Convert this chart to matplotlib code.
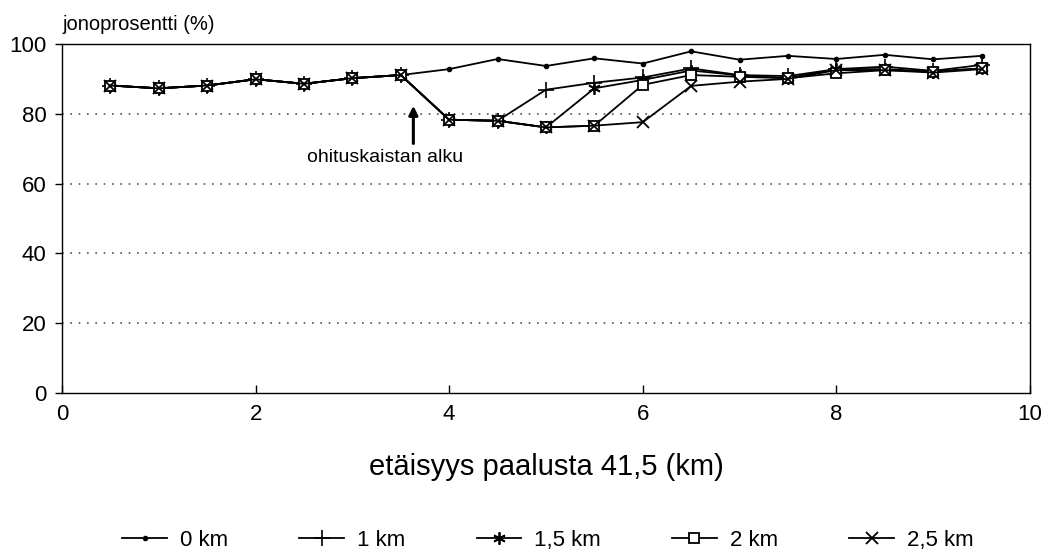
import matplotlib
matplotlib.use("Agg")
import matplotlib.pyplot as plt

# Distance from chainage 41,5 km (km)
distance = [0.5, 1.0, 1.5, 2.0, 2.5, 3.0, 3.5, 4.0, 4.5, 5.0,
            5.5, 6.0, 6.5, 7.0, 7.5, 8.0, 8.5, 9.0, 9.5]

# Common section before the passing lane starts
common = [88.1, 87.3, 88.1, 89.9, 88.6, 90.2, 91.1]

# Platoon percentage (%) per passing-lane length
queue_0km = common + [92.8, 95.7, 93.7, 95.9, 94.4, 97.9, 95.5, 96.6, 95.7, 96.9, 95.6, 96.6]
queue_1km = common + [78.3, 78.0, 86.9, 88.9, 90.4, 93.0, 91.1, 90.8, 92.8, 93.5, 92.3, 94.0]
queue_15km = common + [78.3, 78.0, 76.1, 87.3, 89.7, 92.4, 91.0, 90.2, 92.8, 92.8, 92.1, 93.0]
queue_2km = common + [78.3, 78.0, 76.1, 76.6, 88.3, 91.1, 90.6, 90.2, 91.6, 92.5, 92.1, 93.0]
queue_25km = common + [78.3, 78.0, 76.1, 76.6, 77.6, 88.0, 89.2, 90.0, 92.5, 92.5, 91.8, 92.8]

series_labels = ["0 km", "1 km", "1,5 km", "2 km", "2,5 km"]
x_ticks = [0, 2, 4, 6, 8, 10]
y_ticks = [0, 20, 40, 60, 80, 100]

plt.rcParams['font.family'] = ['Liberation Sans', 'DejaVu Sans']

fig = plt.figure(figsize=(10.54, 5.54), dpi=100)
ax = fig.add_axes([0.0588, 0.2906, 0.9184, 0.6300])

styles = [
    dict(marker='o', markersize=3, markerfacecolor='black'),
    dict(marker='+', markersize=11, markeredgewidth=1.2),
    dict(marker=(6, 2, 0), markersize=9, markeredgewidth=1.3),
    dict(marker='s', markersize=7, markerfacecolor='white', markeredgewidth=1.3),
    dict(marker='x', markersize=8, markeredgewidth=1.3),
]
all_series = [queue_0km, queue_1km, queue_15km, queue_2km, queue_25km]
for vals, lab, st in zip(all_series, series_labels, styles):
    ax.plot(distance, vals, color='black', linewidth=1.3, label=lab,
            markeredgecolor='black', **st)

ax.set_xlim(0, 10)
ax.set_ylim(0, 100)
ax.set_xticks(x_ticks)
ax.set_yticks(y_ticks)
ax.tick_params(axis='both', direction='in', length=6, labelsize=16, width=1, pad=8)
ax.tick_params(axis='y', direction='out', length=5, pad=6)
for y in [20, 40, 60, 80]:
    ax.axhline(y, color='#555555', linestyle=(0, (1, 4)), linewidth=1.2, zorder=0)
for s in ax.spines.values():
    s.set_linewidth(1.0)

ax.text(0.0, 1.03, "jonoprosentti (%)", transform=ax.transAxes,
        fontsize=14.5, ha='left', va='bottom')
ax.set_xlabel("etäisyys paalusta 41,5 (km)", fontsize=21, labelpad=20)

# Start of the passing lane
ax.text(3.34, 67.5, "ohituskaistan alku", fontsize=14, ha='center', va='center')
ax.annotate("", xy=(3.63, 82.3), xytext=(3.63, 71.5),
            arrowprops=dict(arrowstyle='-|>', color='black', lw=2.2,
                            shrinkA=0, shrinkB=0, mutation_scale=13))

fig.legend(loc='lower center', bbox_to_anchor=(0.52, -0.03), ncol=5,
           frameon=False, fontsize=16, handlelength=2.0, handletextpad=0.6,
           columnspacing=3.2)

fig.savefig("out.png", dpi=100, facecolor='white')
